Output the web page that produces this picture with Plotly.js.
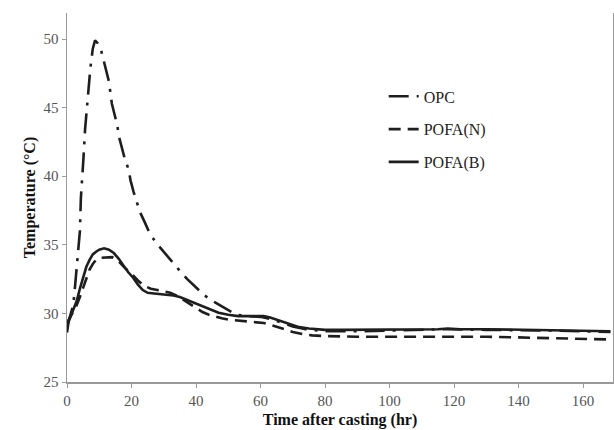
<!DOCTYPE html>
<html>
<head>
<meta charset="utf-8">
<script src="https://cdn.plot.ly/plotly-3.0.1.min.js"></script>
<style>html,body{margin:0;padding:0;background:#fff;}#chart{width:614px;height:430px;}</style>
</head>
<body>
<div id="chart"></div>
<script>
// OPC
const opcTime = [0,1,1.8,2.2,2.5,3.0,3.5,4.0,4.3,4.9,5.1,5.6,6.1,6.6,7.1,7.5,8.0,8.7,9.5,10.4,11.3,12.2,13.0,13.9,14.8,15.6,16.1,17.0,18.0,19.1,19.7,20.6,21.6,22.6,24.2,25.7,27.8,29.9,32.4,35.0,37.3,39.6,42.7,45.9,49.5,52.6,56,60,63,66,70,74,78,80,90,100,110,118,130,140,150,160,168.5];
const opcTemp = [29.0,29.8,30.5,31.2,32.0,33.5,34.4,36.0,38.4,40.1,41.3,43.4,45.0,46.6,47.5,48.4,49.3,49.9,49.7,49.35,48.5,47.7,46.9,45.3,44.4,43.7,42.9,42.0,41.2,40.5,39.7,38.9,38.1,37.4,36.6,35.8,35.1,34.5,33.8,33.1,32.5,32.0,31.3,30.8,30.3,29.9,29.8,29.75,29.6,29.35,29.05,28.85,28.75,28.7,28.7,28.75,28.8,28.85,28.8,28.8,28.75,28.7,28.65];

// POFA(N)
const pofaNTime = [0,1,2,3,4,5,6,7,8,9,10,12,14,16,18,20,22,24,26,28,30,32,34,36,38,40,42,44,46,48,50,54,58,61,64,67,70,73,76,80,85,90,100,110,120,130,140,150,160,168.5];
const pofaNTemp = [29.3,29.7,30.1,30.6,31.2,31.9,32.6,33.2,33.6,33.9,34.05,34.1,34.1,33.8,33.3,32.9,32.4,32.0,31.8,31.7,31.6,31.5,31.3,31.0,30.7,30.4,30.1,29.9,29.75,29.65,29.55,29.45,29.4,29.3,29.1,28.85,28.65,28.5,28.4,28.35,28.3,28.3,28.3,28.3,28.35,28.3,28.25,28.2,28.15,28.1];

// POFA(B)
const pofaBTime = [0,0.5,2,3,4,5,6,7,8,9,10,11.5,13,14.5,16,17.5,19,20.5,22,23.5,25,27,30,33,35,38,41,44,47,50,53,56,59,61,63,66,69,72,75,78,80,85,90,95,100,105,110,115,118,122,130,140,150,160,168.5];
const pofaBTemp = [28.6,29.4,30.3,30.9,31.8,32.6,33.4,33.9,34.3,34.5,34.65,34.75,34.65,34.4,34.0,33.5,33.0,32.6,32.1,31.7,31.5,31.45,31.4,31.3,31.2,30.9,30.6,30.3,30.05,29.9,29.8,29.8,29.8,29.8,29.7,29.45,29.2,29.0,28.9,28.85,28.8,28.8,28.8,28.8,28.8,28.85,28.85,28.85,28.9,28.85,28.85,28.8,28.75,28.7,28.7];

const seriesNames = ['OPC','POFA(N)','POFA(B)'];
const xTickVals = [0,20,40,60,80,100,120,140,160];
const yTickVals = [25,30,35,40,45,50];

const serif = 'Liberation Serif, Times New Roman, serif';
const lineColor = '#1e1e1e';

const traces = [
  {x: opcTime, y: opcTemp, name: seriesNames[0], legendgroup:'a', mode:'lines',
   line:{color:lineColor, width:2.6, dash:'20px,8px,3px,8px'}},
  {x: pofaNTime, y: pofaNTemp, name: seriesNames[1], legendgroup:'b', mode:'lines',
   line:{color:lineColor, width:2.6, dash:'12px,7px'}},
  {x: pofaBTime, y: pofaBTemp, name: seriesNames[2], legendgroup:'c', mode:'lines',
   line:{color:lineColor, width:2.6}}
];

const layout = {
  width:614, height:430,
  margin:{l:67, r:1, t:13, b:48},
  paper_bgcolor:'#fff', plot_bgcolor:'#fff',
  font:{family:serif, color:'#555', size:15},
  showlegend:true,
  legend:{x:0.58, xanchor:'left', y:0.82, yanchor:'top', bgcolor:'rgba(0,0,0,0)',
          font:{family:serif, size:16, color:'#222'}, tracegroupgap:9},
  xaxis:{range:[0,169.3], tickvals:xTickVals, ticktext:xTickVals.map(String),
         showgrid:false, zeroline:false, showline:true, linecolor:'#9a9a9a', linewidth:1.5,
         ticks:'outside', ticklen:4, tickcolor:'#9a9a9a', tickfont:{family:serif,size:15,color:'#555'},
         automargin:false,
         title:{text:'Time after casting (hr)', font:{family:serif, size:16, color:'#111', weight:'bold'}, standoff:6}},
  yaxis:{range:[25,51.9], tickvals:yTickVals, ticktext:yTickVals.map(String),
         showgrid:false, zeroline:false, showline:true, linecolor:'#9a9a9a', linewidth:1.5, mirror:true,
         ticks:'outside', ticklen:4, tickcolor:'#9a9a9a', tickfont:{family:serif,size:15,color:'#555'},
         automargin:false,
         title:{text:'Temperature (°C)', font:{family:serif, size:16, color:'#111', weight:'bold'}, standoff:4}}
};

Plotly.newPlot('chart', traces, layout, {displayModeBar:false, staticPlot:true});
</script>
</body>
</html>
